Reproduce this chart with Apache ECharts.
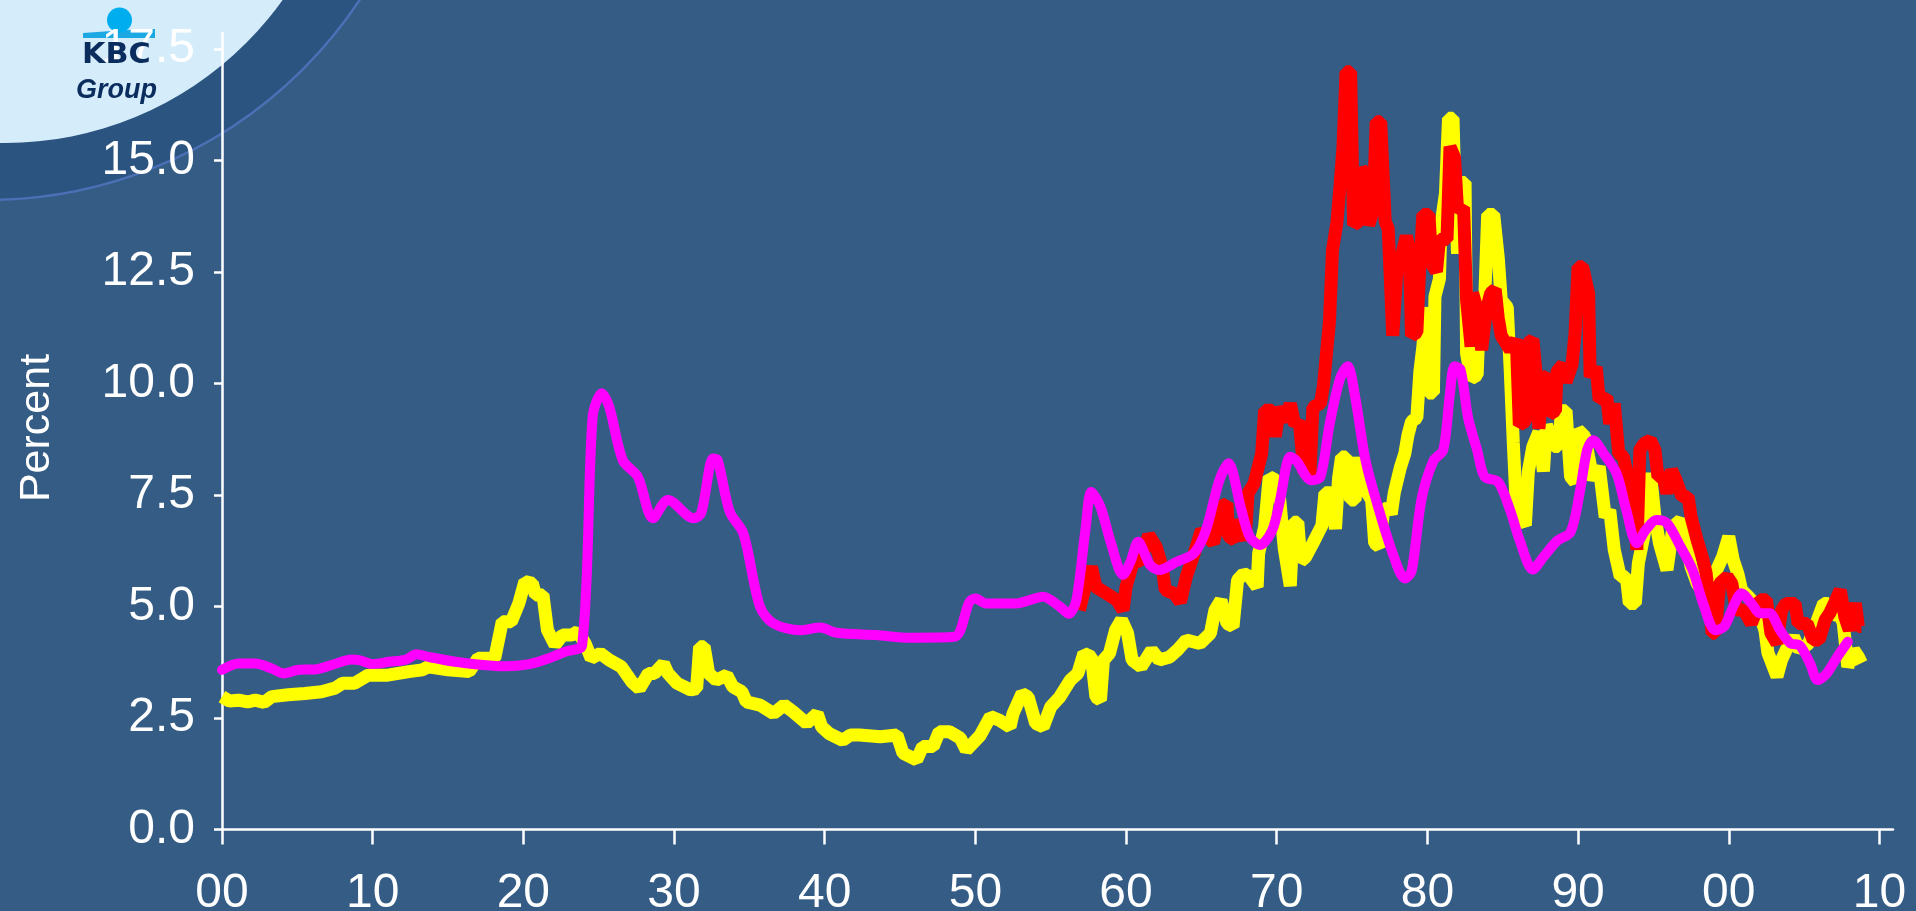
<!DOCTYPE html>
<html>
<head>
<meta charset="utf-8">
<script src="https://cdn.jsdelivr.net/npm/echarts@6.0.0/dist/echarts.min.js"></script>
<style>
html,body{margin:0;padding:0;background:#345C85;overflow:hidden;}
#chart{width:1916px;height:911px;}
</style>
</head>
<body>
<div id="chart"></div>
<script>
// ---- axis ticks ----
const xTickYears = [1900,1910,1920,1930,1940,1950,1960,1970,1980,1990,2000,2010];
const xTickLabels = ['00','10','20','30','40','50','60','70','80','90','00','10'];
const yTickValues = [0,2.5,5,7.5,10,12.5,15,17.5];
const yTickLabels = ['0.0','2.5','5.0','7.5','10.0','12.5','15.0','17.5'];
const yAxisTitle = 'Percent';

// ---- yellow series [year, percent] ----
const yellowSeries = [
[1900.0,2.98],[1900.5,2.88],[1901.1,2.90],[1901.7,2.86],[1902.2,2.90],[1902.8,2.85],[1903.3,2.98],
[1904.4,3.02],[1905.5,3.05],[1906.6,3.09],[1907.5,3.17],[1908.0,3.28],[1908.8,3.28],[1909.7,3.46],
[1911.0,3.46],[1912.4,3.54],[1913.3,3.58],[1913.7,3.65],[1915.0,3.58],[1916.4,3.54],[1917.0,3.84],
[1918.1,3.84],[1918.6,4.66],[1919.2,4.66],[1919.7,5.07],[1920.1,5.56],[1920.6,5.52],[1920.8,5.26],
[1921.3,5.26],[1921.6,4.47],[1922.1,4.14],[1922.6,4.36],[1923.2,4.36],[1923.6,4.44],[1924.1,4.17],
[1924.5,3.84],[1925.1,3.95],[1925.7,3.80],[1926.5,3.65],[1927.2,3.31],[1927.7,3.16],[1928.3,3.50],
[1928.7,3.50],[1929.3,3.72],[1929.6,3.50],[1930.2,3.28],[1931.1,3.13],[1931.5,3.16],[1931.7,4.10],
[1932.0,4.10],[1932.3,3.50],[1932.8,3.35],[1933.5,3.46],[1933.9,3.20],[1934.5,3.09],[1934.8,2.86],
[1935.7,2.79],[1936.6,2.60],[1937.3,2.79],[1937.9,2.64],[1938.8,2.38],[1939.5,2.60],[1939.8,2.30],
[1940.3,2.15],[1941.2,2.00],[1941.7,2.12],[1942.3,2.12],[1943.7,2.08],[1944.8,2.12],[1945.2,1.71],
[1946.1,1.56],[1946.5,1.86],[1947.2,1.86],[1947.6,2.19],[1948.3,2.19],[1949.0,2.05],[1949.4,1.78],
[1950.3,2.10],[1951.0,2.53],[1951.6,2.45],[1952.3,2.30],[1952.5,2.60],[1953.1,3.05],[1953.5,2.97],
[1954.0,2.38],[1954.5,2.30],[1955.0,2.75],[1955.6,2.97],[1956.3,3.35],[1956.8,3.50],[1957.2,3.95],
[1957.7,3.87],[1958.0,2.97],[1958.3,2.90],[1958.5,3.80],[1958.9,3.95],[1959.3,4.47],[1959.7,4.70],
[1960.1,4.40],[1960.4,3.80],[1961.0,3.65],[1961.7,4.02],[1962.2,3.80],[1962.9,3.87],[1963.4,4.02],
[1964.0,4.25],[1964.9,4.17],[1965.6,4.40],[1965.9,4.92],[1966.3,5.14],[1966.7,4.62],[1967.1,4.55],
[1967.4,5.59],[1967.8,5.74],[1968.2,5.67],[1968.7,5.44],[1968.8,6.19],[1969.2,6.79],[1969.5,7.91],
[1969.9,7.84],[1970.2,7.40],[1970.5,6.30],[1970.9,5.46],[1971.1,6.89],[1971.4,6.89],[1971.6,6.02],
[1971.9,6.10],[1972.4,6.42],[1973.0,6.82],[1973.2,7.55],[1973.6,7.55],[1973.9,6.74],[1974.1,7.87],
[1974.3,8.35],[1974.6,8.35],[1974.9,7.39],[1975.2,7.39],[1975.4,8.35],[1975.6,7.71],[1976.0,7.55],
[1976.3,7.39],[1976.5,6.42],[1976.8,6.34],[1977.1,7.15],[1977.4,7.23],[1977.6,7.07],[1977.8,7.55],
[1978.2,8.11],[1978.5,8.43],[1978.7,8.83],[1978.95,9.15],[1979.3,9.23],[1979.5,10.27],[1979.7,10.83],
[1979.9,11.71],[1980.05,9.79],[1980.4,9.79],[1980.5,11.95],[1980.8,12.35],[1980.9,13.55],[1981.2,14.27],
[1981.4,15.95],[1981.7,15.95],[1981.8,14.67],[1982.0,12.91],[1982.2,14.51],[1982.5,14.51],[1982.6,10.67],
[1982.9,10.11],[1983.3,10.19],[1983.5,11.87],[1983.8,11.87],[1984.0,13.79],[1984.4,13.79],[1984.7,12.83],
[1984.9,11.87],[1985.3,11.71],[1985.5,10.27],[1985.7,8.67],[1985.9,7.23],[1986.3,6.91],[1986.5,6.82],
[1986.7,8.03],[1987.0,8.59],[1987.4,8.91],[1987.7,8.03],[1987.9,9.07],[1988.4,8.59],[1988.7,8.59],
[1988.9,9.39],[1989.2,9.39],[1989.5,7.91],[1989.8,7.79],[1990.0,8.96],[1990.45,8.81],[1990.7,8.36],
[1991.0,7.84],[1991.4,8.14],[1991.8,7.01],[1992.1,7.16],[1992.4,6.27],[1992.8,5.67],[1993.2,5.67],
[1993.4,5.07],[1993.8,5.07],[1994.0,5.97],[1994.4,6.64],[1994.8,7.99],[1995.1,7.01],[1995.4,6.42],
[1995.9,5.82],[1996.3,6.79],[1996.8,6.94],[1997.2,6.42],[1997.5,5.89],[1997.9,5.52],[1998.5,5.22],
[1998.97,4.62],[1999.2,5.82],[1999.6,6.12],[2000.0,6.57],[2000.3,6.04],[2000.6,5.74],[2000.85,5.37],
[2001.3,5.22],[2001.7,5.07],[2002.1,4.77],[2002.4,4.47],[2002.6,3.96],[2003.2,3.43],[2003.5,3.80],
[2003.8,4.02],[2004.3,4.32],[2004.7,4.02],[2005.3,4.17],[2005.8,4.62],[2006.3,5.07],[2006.6,5.07],
[2006.8,4.77],[2007.3,4.92],[2007.6,4.62],[2007.9,3.65],[2008.3,4.02],[2008.6,3.87],[2008.8,3.73]
];

// ---- red series [year, percent] ----
const redSeries = [
[1956.9,4.92],[1957.4,5.59],[1957.7,5.89],[1958.0,5.44],[1958.7,5.29],[1959.4,5.14],[1959.8,4.92],
[1960.0,5.44],[1960.5,6.04],[1961.0,6.01],[1961.5,6.60],[1962.0,6.34],[1962.4,5.89],[1962.6,5.37],
[1963.2,5.29],[1963.6,5.10],[1964.0,5.67],[1964.6,6.27],[1965.0,6.71],[1965.8,6.42],[1966.3,7.24],
[1966.7,7.31],[1966.8,6.57],[1967.2,6.49],[1967.4,6.94],[1967.9,6.49],[1968.1,7.54],[1968.5,7.76],
[1969.0,8.43],[1969.2,9.40],[1969.7,9.40],[1969.9,8.81],[1970.2,9.47],[1970.6,9.15],[1970.9,9.55],
[1971.2,9.07],[1971.5,9.15],[1971.8,8.03],[1972.2,7.95],[1972.4,9.47],[1972.9,9.55],[1973.1,9.95],
[1973.5,11.39],[1973.7,12.99],[1974.0,13.63],[1974.2,14.43],[1974.4,15.31],[1974.6,16.99],[1974.9,16.99],
[1975.1,13.55],[1975.4,13.63],[1975.6,14.83],[1975.9,14.67],[1976.1,13.55],[1976.4,13.87],[1976.6,15.87],
[1976.9,15.87],[1977.2,13.63],[1977.4,13.47],[1977.5,12.67],[1977.7,11.07],[1977.95,12.43],[1978.2,12.75],
[1978.6,13.31],[1978.8,12.99],[1978.95,11.07],[1979.3,11.15],[1979.5,12.67],[1979.7,13.79],[1980.1,13.79],
[1980.3,12.67],[1980.6,12.51],[1980.8,13.23],[1981.3,13.23],[1981.5,15.31],[1981.8,15.07],[1982.0,13.87],
[1982.4,13.95],[1982.6,11.87],[1982.9,10.83],[1983.0,12.03],[1983.4,11.55],[1983.6,10.75],[1983.9,11.63],
[1984.2,12.03],[1984.5,12.11],[1984.7,11.47],[1984.9,11.07],[1985.5,10.75],[1985.9,10.99],[1986.1,9.07],
[1986.5,9.15],[1986.7,10.91],[1987.0,10.99],[1987.2,10.27],[1987.4,8.99],[1987.7,10.11],[1988.0,10.19],
[1988.1,9.31],[1988.5,9.39],[1988.6,10.27],[1989.0,10.43],[1989.2,10.03],[1989.6,10.43],[1989.8,11.13],
[1990.0,12.62],[1990.3,12.62],[1990.7,12.02],[1990.8,10.15],[1991.2,10.37],[1991.4,9.63],[1991.9,9.70],
[1992.1,9.10],[1992.4,9.55],[1992.7,8.43],[1993.0,8.36],[1993.3,7.91],[1993.7,7.39],[1993.9,6.27],
[1994.1,8.51],[1994.4,8.66],[1994.8,8.73],[1995.1,8.51],[1995.3,7.91],[1995.65,7.91],[1995.9,7.54],
[1996.2,8.06],[1996.5,7.84],[1996.9,7.46],[1997.3,7.46],[1997.5,7.01],[1997.9,6.49],[1998.3,6.04],
[1998.5,5.74],[1998.9,4.40],[1999.1,4.40],[1999.4,5.52],[1999.9,5.67],[2000.2,5.52],[2000.5,4.92],
[2001.0,4.92],[2001.5,4.62],[2002.1,5.15],[2002.5,5.15],[2002.8,4.40],[2003.2,4.17],[2003.5,4.92],
[2003.8,5.07],[2004.4,5.07],[2004.6,4.62],[2005.2,4.62],[2005.6,4.25],[2006.0,4.25],[2006.4,4.70],
[2006.7,4.85],[2007.0,5.07],[2007.4,5.37],[2007.7,4.77],[2008.0,4.47],[2008.4,5.07],[2008.6,4.55],
[2008.8,4.55]
];

// ---- magenta series [year, percent] ----
const magentaSeries = [
[1900.0,3.58],[1901.1,3.72],[1902.2,3.72],[1903.3,3.61],[1904.1,3.50],[1905.1,3.58],[1906.2,3.59],
[1907.3,3.69],[1908.6,3.81],[1909.1,3.80],[1910.0,3.71],[1911.1,3.76],[1912.2,3.81],[1912.9,3.93],
[1913.7,3.87],[1915.5,3.76],[1917.3,3.69],[1918.8,3.66],[1920.4,3.71],[1921.7,3.84],[1922.8,3.99],
[1923.9,4.13],[1924.6,9.26],[1925.2,9.78],[1925.7,9.48],[1926.6,8.28],[1927.6,7.91],[1928.6,6.98],
[1929.6,7.39],[1931.3,6.98],[1931.8,7.09],[1932.6,8.32],[1932.9,8.28],[1933.7,7.12],[1934.6,6.64],
[1935.7,5.00],[1936.6,4.62],[1938.4,4.47],[1939.7,4.53],[1940.8,4.41],[1943.4,4.36],[1945.7,4.30],
[1948.6,4.32],[1949.6,5.10],[1950.0,5.18],[1950.7,5.07],[1952.7,5.07],[1954.5,5.22],[1955.6,5.00],
[1956.2,4.84],[1956.7,5.14],[1957.3,6.71],[1957.7,7.57],[1958.3,7.24],[1959.0,6.42],[1959.8,5.71],
[1960.3,6.01],[1960.8,6.45],[1961.6,5.93],[1962.2,5.82],[1963.4,6.01],[1964.5,6.19],[1965.3,6.71],
[1966.2,7.84],[1966.8,8.21],[1967.6,7.24],[1968.2,6.57],[1968.9,6.38],[1969.7,6.71],[1970.2,7.35],
[1970.9,8.36],[1971.3,8.27],[1972.3,7.83],[1972.9,7.91],[1973.5,9.07],[1974.2,10.11],[1974.7,10.39],
[1975.2,9.71],[1975.9,8.27],[1976.8,7.15],[1977.7,6.19],[1978.5,5.63],[1978.95,5.79],[1979.6,7.39],
[1980.4,8.27],[1981.05,8.51],[1981.5,9.79],[1981.8,10.39],[1982.2,10.31],[1982.7,9.23],[1983.3,8.51],
[1983.8,7.91],[1984.7,7.79],[1985.5,7.15],[1986.1,6.51],[1987.0,5.83],[1987.7,6.11],[1988.6,6.47],
[1989.5,6.67],[1990.1,7.54],[1990.6,8.51],[1991.0,8.73],[1991.7,8.43],[1992.55,7.99],[1993.2,7.16],
[1993.9,6.42],[1994.5,6.72],[1995.2,6.94],[1995.9,6.87],[1996.8,6.34],[1997.6,5.82],[1998.3,5.07],
[1999.1,4.47],[1999.7,4.55],[2000.3,5.00],[2000.85,5.30],[2001.5,5.07],[2002.1,4.85],[2002.7,4.85],
[2003.4,4.47],[2004.1,4.17],[2004.7,4.13],[2005.4,3.72],[2005.9,3.35],[2006.5,3.50],[2007.2,3.87],
[2007.9,4.21]
];

const FONT = '"Liberation Sans", Arial, Helvetica, sans-serif';
const LOGO_FONT = '"DejaVu Sans", "Liberation Sans", Arial, sans-serif';
const chart = echarts.init(document.getElementById('chart'), null, {renderer: 'canvas', width: 1916, height: 911});

chart.setOption({
  animation: false,
  backgroundColor: '#345C85',
  grid: {left: 222, right: 23, top: 33, bottom: 81.5, containLabel: false, outerBoundsMode: 'none'},
  xAxis: {
    type: 'value', min: 1900, max: 2010.9, z: 5,
    axisLine: {show: true, onZero: false, lineStyle: {color: '#FFFFFF', width: 2.5}},
    axisTick: {show: true, length: 15, customValues: xTickYears, lineStyle: {color: '#FFFFFF', width: 2.5}},
    axisLabel: {
      show: true, color: '#FFFFFF', fontSize: 48, fontFamily: FONT, margin: 40,
      customValues: xTickYears,
      formatter: function (v) { const i = xTickYears.indexOf(Math.round(v)); return i >= 0 ? xTickLabels[i] : ''; }
    },
    splitLine: {show: false}
  },
  yAxis: {
    type: 'value', min: 0, max: 17.86, z: 5,
    axisLine: {show: true, lineStyle: {color: '#FFFFFF', width: 2.5}},
    axisTick: {show: true, length: 8, customValues: yTickValues, lineStyle: {color: '#FFFFFF', width: 2.5}},
    axisLabel: {
      show: true, color: '#FFFFFF', fontSize: 48, fontFamily: FONT, margin: 27,
      customValues: yTickValues,
      formatter: function (v) {
        for (let i = 0; i < yTickValues.length; i++) { if (Math.abs(yTickValues[i] - v) < 1e-6) return yTickLabels[i]; }
        return '';
      }
    },
    splitLine: {show: false}
  },
  graphic: [
    {type: 'circle', z: 0, silent: true, shape: {cx: -13, cy: -247, r: 447},
      style: {fill: '#2C5480', stroke: '#4B70B5', lineWidth: 2.5}},
    {type: 'circle', z: 0, silent: true, shape: {cx: 5, cy: -198, r: 341},
      style: {fill: '#D5EDFA'}},
    {type: 'polygon', z: 1, silent: true, shape: {points: [[83, 33], [140, 29], [155, 29], [155, 38], [83, 38]]},
      style: {fill: '#1BA8E3'}},
    {type: 'circle', z: 1, silent: true, shape: {cx: 119.5, cy: 20, r: 12.5},
      style: {fill: '#00AEEF'}},
    {type: 'text', z: 20, silent: true, x: 82, y: 42, scaleX: 1.08, originX: 0, originY: 0,
      style: {text: 'KBC', fill: '#0B2D5E', font: 'bold 28px ' + LOGO_FONT, textAlign: 'left', textVerticalAlign: 'top', align: 'left', verticalAlign: 'top'}},
    {type: 'text', z: 20, silent: true, x: 76, y: 77,
      style: {text: 'Group', fill: '#0B2D5E', font: 'italic bold 27px ' + FONT, textAlign: 'left', textVerticalAlign: 'top', align: 'left', verticalAlign: 'top'}},
    {type: 'text', z: 20, silent: true, x: 37, y: 428, rotation: Math.PI / 2,
      style: {text: yAxisTitle, fill: '#FFFFFF', font: '43px ' + FONT, textAlign: 'center', textVerticalAlign: 'middle', align: 'center', verticalAlign: 'middle'}}
  ],
  series: [
    {name: 'Yellow', type: 'line', data: yellowSeries, z: 10, symbol: 'none', showSymbol: false,
      color: '#FFFF00', lineStyle: {color: '#FFFF00', width: 13, join: 'bevel'}},
    {name: 'Red', type: 'line', data: redSeries, z: 11, symbol: 'none', showSymbol: false,
      color: '#FF0000', lineStyle: {color: '#FF0000', width: 13, join: 'bevel'}},
    {name: 'Magenta', type: 'line', data: magentaSeries, z: 12, symbol: 'none', showSymbol: false, smooth: 0.3,
      color: '#FF00FF', lineStyle: {color: '#FF00FF', width: 10, join: 'round', cap: 'round'}}
  ]
});
</script>
</body>
</html>
